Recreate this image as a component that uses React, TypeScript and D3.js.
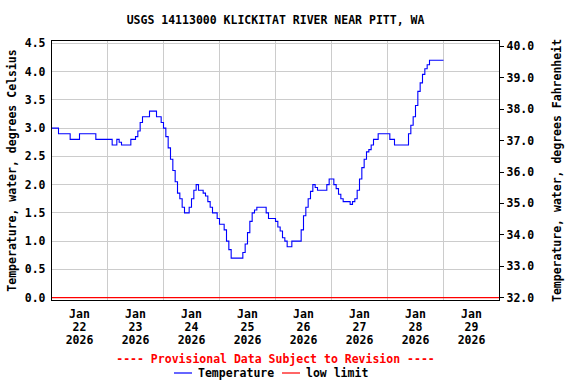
import React from "react";
import * as d3 from "d3";

// --- chart text ---
const title = "USGS 14113000 KLICKITAT RIVER NEAR PITT, WA";
const leftTitle = "Temperature, water, degrees Celsius";
const rightTitle = "Temperature, water, degrees Fahrenheit";
const provisional = "---- Provisional Data Subject to Revision ----";
const seriesNames = ["Temperature", "low limit"];

// --- axis ticks ---
const dayLabels = ["22", "23", "24", "25", "26", "27", "28", "29"];
const monthLabel = "Jan";
const yearLabel = "2026";
const celsiusTicks = [0, 0.5, 1, 1.5, 2, 2.5, 3, 3.5, 4, 4.5];
const fahrenheitTicks = [32, 33, 34, 35, 36, 37, 38, 39, 40];

// --- data: hourly water temperature, deg C, from Jan 22 2026 00:00 ---
const tempJan22 = [3.0, 3.0, 3.0, 2.9, 2.9, 2.9, 2.9, 2.9, 2.8, 2.8, 2.8, 2.8, 2.9, 2.9, 2.9, 2.9, 2.9, 2.9, 2.9, 2.8, 2.8, 2.8, 2.8, 2.8];
const tempJan23 = [2.8, 2.8, 2.7, 2.7, 2.8, 2.75, 2.7, 2.7, 2.7, 2.7, 2.8, 2.8, 2.85, 2.95, 3.1, 3.2, 3.2, 3.2, 3.3, 3.3, 3.3, 3.2, 3.2, 3.1];
const tempJan24 = [3.0, 2.85, 2.65, 2.45, 2.25, 2.05, 1.85, 1.75, 1.6, 1.5, 1.5, 1.6, 1.75, 1.9, 2.0, 1.9, 1.9, 1.85, 1.8, 1.7, 1.6, 1.5, 1.5, 1.4];
const tempJan25 = [1.3, 1.3, 1.2, 1.0, 0.85, 0.7, 0.7, 0.7, 0.7, 0.7, 0.8, 0.95, 1.15, 1.35, 1.5, 1.55, 1.6, 1.6, 1.6, 1.6, 1.5, 1.4, 1.4, 1.4];
const tempJan26 = [1.35, 1.25, 1.18, 1.06, 1.0, 0.9, 0.9, 1.0, 1.0, 1.0, 1.0, 1.2, 1.45, 1.6, 1.75, 1.88, 2.0, 1.95, 1.9, 1.9, 1.9, 1.9, 2.0, 2.1];
const tempJan27 = [2.1, 2.0, 1.93, 1.83, 1.75, 1.7, 1.7, 1.7, 1.65, 1.7, 1.75, 1.9, 2.1, 2.3, 2.45, 2.58, 2.62, 2.7, 2.8, 2.8, 2.9, 2.9, 2.9, 2.9];
const tempJan28 = [2.9, 2.8, 2.8, 2.7, 2.7, 2.7, 2.7, 2.7, 2.7, 2.9, 3.05, 3.2, 3.4, 3.65, 3.8, 3.95, 4.05, 4.12, 4.2, 4.2, 4.2, 4.2, 4.2, 4.2];
const tempJan29 = [4.2];
const lowLimit = 0.0;

const W = 576;
const H = 384;
const plot = {left: 51.5, right: 499.5, top: 40.5, bottom: 300.5};
const font = "'DejaVu Sans Mono', monospace";

const start = Date.UTC(2026, 0, 22);
const end = Date.UTC(2026, 0, 30);
const HOUR = 3600 * 1000;
const DAY = 24 * HOUR;

const cToF = (c: number) => c * 1.8 + 32;

export default function App() {
    const temps = [...tempJan22, ...tempJan23, ...tempJan24, ...tempJan25, ...tempJan26, ...tempJan27, ...tempJan28, ...tempJan29];
    const points = temps.map((v, i) => ({t: new Date(start + i * HOUR), v}));

    const x = d3.scaleUtc().domain([new Date(start), new Date(end)]).range([plot.left, plot.right]);
    const y = d3.scaleLinear().domain([-0.05, 4.55]).range([plot.bottom, plot.top]);
    const yF = d3.scaleLinear().domain([cToF(-0.05), cToF(4.55)]).range([plot.bottom, plot.top]);

    const line = d3.line<{t: Date, v: number}>()
        .x(d => x(d.t))
        .y(d => y(d.v))
        .curve(d3.curveStepAfter);

    const dayLines = d3.range(1, 8).map(i => new Date(start + i * DAY));
    const fmt = d3.format(".1f");

    const textStyle = {fontFamily: font, fontWeight: "bold", fontSize: 11.5} as const;

    return (
        <svg width={W} height={H} style={{position: "absolute", left: 0, top: 0, background: "white"}}>
            <text x={(plot.left + plot.right) / 2} y={24} textAnchor="middle" {...textStyle}>{title}</text>

            {/* grid */}
            <g stroke="#cccccc" strokeWidth={1} shapeRendering="crispEdges">
                {celsiusTicks.filter(t => t !== lowLimit).map(t => (
                    <line key={"h" + t} x1={plot.left} x2={plot.right} y1={y(t)} y2={y(t)} />
                ))}
                {dayLines.map((d, i) => (
                    <line key={"v" + i} x1={x(d)} x2={x(d)} y1={plot.top} y2={plot.bottom} />
                ))}
            </g>

            {/* low limit */}
            <line x1={plot.left} x2={plot.right} y1={y(lowLimit)} y2={y(lowLimit)} stroke="#ff0000" strokeWidth={1.3} />

            {/* temperature */}
            <path d={line(points) || ""} fill="none" stroke="#0000ff" strokeWidth={1.1} />

            <rect x={plot.left} y={plot.top} width={plot.right - plot.left} height={plot.bottom - plot.top}
                  fill="none" stroke="black" strokeWidth={1} shapeRendering="crispEdges" />

            {/* left axis */}
            {celsiusTicks.map(t => (
                <text key={"l" + t} x={plot.left - 6} y={y(t) + 4} textAnchor="end" {...textStyle}>{fmt(t)}</text>
            ))}
            {/* right axis */}
            {fahrenheitTicks.map(t => (
                <g key={"r" + t}>
                    <line x1={plot.right} x2={plot.right + 4} y1={yF(t)} y2={yF(t)} stroke="black" shapeRendering="crispEdges" />
                    <text x={plot.right + 7} y={yF(t) + 4} {...textStyle}>{fmt(t)}</text>
                </g>
            ))}

            {/* x labels at noon */}
            {dayLabels.map((lab, i) => {
                const cx = x(new Date(start + i * DAY + 12 * HOUR));
                return (
                    <text key={"x" + lab} x={cx} textAnchor="middle" {...textStyle}>
                        <tspan x={cx} y={318}>{monthLabel}</tspan>
                        <tspan x={cx} y={331}>{lab}</tspan>
                        <tspan x={cx} y={344}>{yearLabel}</tspan>
                    </text>
                );
            })}

            <text transform={`translate(16,${(plot.top + plot.bottom) / 2}) rotate(-90)`} textAnchor="middle" {...textStyle}>{leftTitle}</text>
            <text transform={`translate(561,${(plot.top + plot.bottom) / 2}) rotate(-90)`} textAnchor="middle" {...textStyle}>{rightTitle}</text>

            <text x={(plot.left + plot.right) / 2} y={363} textAnchor="middle" fill="#ff0000" {...textStyle}>{provisional}</text>

            {/* legend */}
            <line x1={174} x2={192} y1={373} y2={373} stroke="#0000ff" strokeWidth={1.2} />
            <text x={198} y={377} {...textStyle}>{seriesNames[0]}</text>
            <line x1={282} x2={300} y1={373} y2={373} stroke="#ff0000" strokeWidth={1.2} />
            <text x={306} y={377} {...textStyle}>{seriesNames[1]}</text>
        </svg>
    );
}
